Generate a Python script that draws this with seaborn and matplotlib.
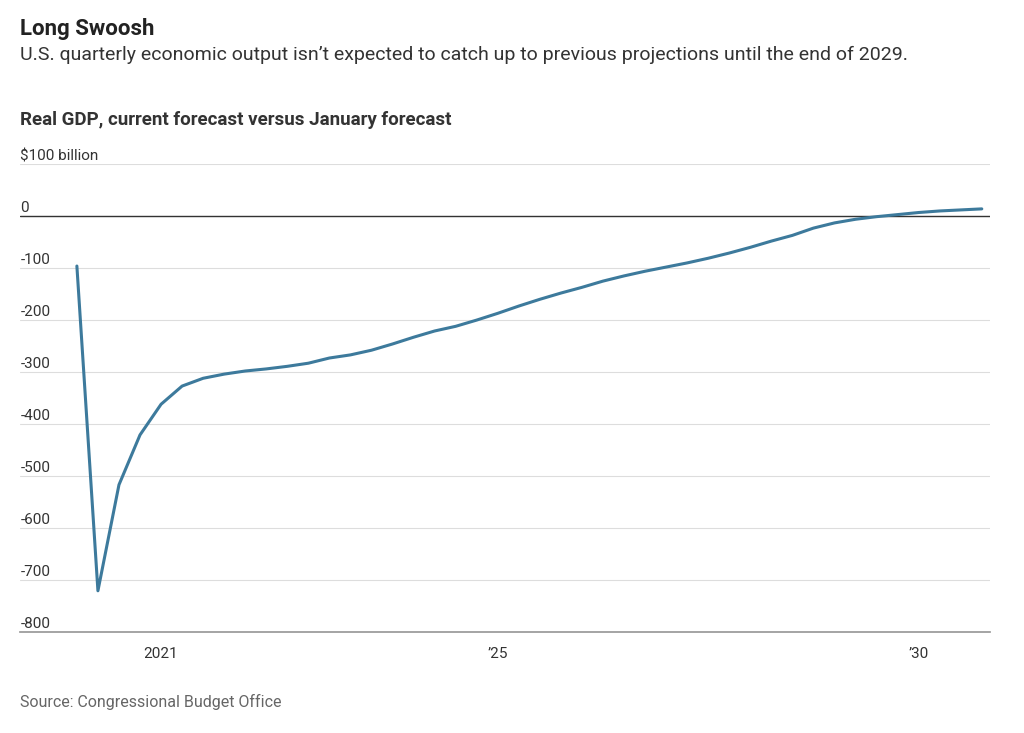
import numpy as np
import pandas as pd
import matplotlib.pyplot as plt
import seaborn as sns

sns.set_theme(style='white')
plt.rcParams['font.family'] = ['Roboto', 'DejaVu Sans']

# quarterly, 2020Q1 .. 2030Q4, $ billion difference
gdp_gap = [-96, -721, -517, -421, -362, -327, -312, -304, -298, -294, -289, -283,
           -273, -267, -258, -246, -233, -221, -212, -200, -187, -173, -160, -148,
           -137, -125, -115, -106, -98, -90, -81, -71, -60, -48, -37, -23,
           -13, -6, -1, 3, 7, 10, 12, 14]
quarters = 2020 + np.arange(len(gdp_gap)) / 4
y_ticks = [100, 0, -100, -200, -300, -400, -500, -600, -700, -800]
y_labels = ['$100 billion', '0', '-100', '-200', '-300', '-400', '-500', '-600', '-700', '-800']

df = pd.DataFrame({'t': quarters, 'gap': gdp_gap})

fig = plt.figure(figsize=(10.24, 7.33), dpi=100)
ax = fig.add_axes([0.02, 0.138, 0.947, 0.638])
sns.lineplot(data=df, x='t', y='gap', ax=ax, color='#3d7a9c', linewidth=2.2)

ax.set_xlim(2019.33, 2030.85)
ax.set_ylim(-800, 100)
ax.set_yticks(y_ticks)
ax.set_yticklabels([])
for v, lab in zip(y_ticks, y_labels):
    ax.axhline(v, color='#dddddd', lw=0.8, zorder=0)
    ax.text(2019.33, v + 2, lab, fontsize=11, color='#333333', va='bottom', ha='left')
ax.axhline(0, color='#333333', lw=1, zorder=1)
ax.tick_params(axis='y', length=0)

ax.set_xticks(np.arange(2021, 2031))
ax.set_xticklabels(['2021', '', '', '', '\u201925', '', '', '', '', '\u201930'],
                   fontsize=11, color='#333333')
ax.tick_params(axis='x', length=5, color='#999999', direction='out', pad=6)
for s in ['top', 'right', 'left']:
    ax.spines[s].set_visible(False)
ax.spines['bottom'].set_color('#999999')
ax.set_xlabel('')
ax.set_ylabel('')

fig.text(0.02, 0.952, 'Long Swoosh', fontsize=16, weight='bold', color='#222222')
fig.text(0.02, 0.918, 'U.S. quarterly economic output isn\u2019t expected to catch up to previous projections until the end of 2029.',
         fontsize=14, color='#333333')
fig.text(0.02, 0.83, 'Real GDP, current forecast versus January forecast', fontsize=13.5,
         weight='bold', color='#333333')
fig.text(0.02, 0.035, 'Source: Congressional Budget Office', fontsize=11.5, color='#666666')

plt.savefig('out.png', dpi=100)
